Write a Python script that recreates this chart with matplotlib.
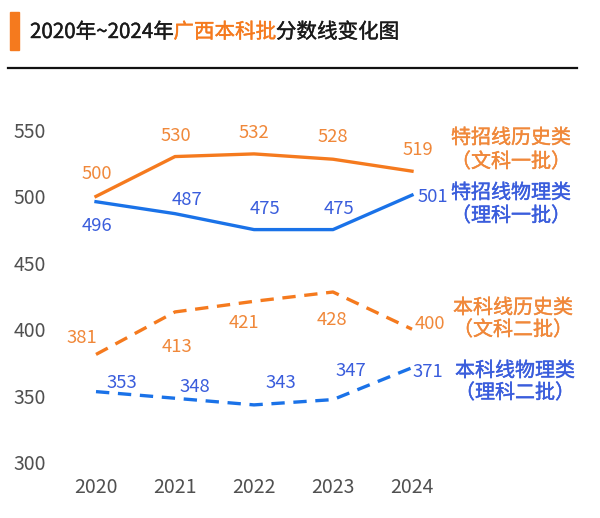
import matplotlib
matplotlib.use("Agg")
import matplotlib.pyplot as plt
import matplotlib.patheffects as pe
from matplotlib.patches import Rectangle
from matplotlib.lines import Line2D

plt.rcParams['font.family'] = ['Noto Sans CJK SC', 'DejaVu Sans']

years = [2020, 2021, 2022, 2023, 2024]
tz_history = [500, 530, 532, 528, 519]   # 特招线历史类
tz_physics = [496, 487, 475, 475, 501]   # 特招线物理类
bk_history = [381, 413, 421, 428, 400]   # 本科线历史类
bk_physics = [353, 348, 343, 347, 371]   # 本科线物理类
y_ticks = [300, 350, 400, 450, 500, 550]

ORANGE = '#F57A1E'
ORANGE_TXT = '#F0883A'
BLUE = '#1A72E8'
BLUE_TXT = '#3A5DDC'

fig = plt.figure(figsize=(6.0, 5.18), dpi=100)
W, H = 600, 518


def semi(color, w=0.3):
    # 常规字重加细描边, 模拟中粗体
    return [pe.withStroke(linewidth=w, foreground=color)]


# 标题
fig.patches.append(Rectangle((10 / W, 1 - 50 / H), 9 / W, 38 / H,
                             transform=fig.transFigure, color='#F57A1E'))
ty = 1 - 32 / H
parts = [('2020年~2024年', '#1a1a1a'), ('广西本科批', ORANGE), ('分数线变化图', '#1a1a1a')]
x = 30 / W
for txt, c in parts:
    t = fig.text(x, ty, txt, fontsize=14.8, color=c, va='center', ha='left',
                 path_effects=semi(c))
    fig.canvas.draw()
    x = t.get_window_extent().x1 / W
fig.lines.append(Line2D([8 / W, 577 / W], [1 - 68 / H, 1 - 68 / H],
                        transform=fig.transFigure, color='#111111', lw=1.6))

# 坐标轴 (像素位置对齐)
ax = fig.add_axes([60 / W, (H - 470) / H, 540 / W, 360 / H])
ax.set_xlim(2020 - 36 / 79, 2020 - 36 / 79 + 540 / 79)
ppu = 66.4 / 50
ax.set_ylim(300 - 8 / ppu, 300 - 8 / ppu + 360 / ppu)
for s in ax.spines.values():
    s.set_visible(False)
ax.set_xticks(years)
ax.set_yticks(y_ticks)
ax.tick_params(length=0, labelsize=14, labelcolor='#505050')
ax.tick_params(axis='y', pad=10)
ax.tick_params(axis='x', pad=5)

ax.plot(years, tz_history, color=ORANGE, lw=2.4, solid_joinstyle='round')
ax.plot(years, tz_physics, color=BLUE, lw=2.4, solid_joinstyle='round')
ax.plot(years, bk_history, color=ORANGE, lw=2.4, dashes=(4, 2.6))
ax.plot(years, bk_physics, color=BLUE, lw=2.4, dashes=(4, 2.6))


# 数据标签偏移 (像素)
def labels(vals, offs, color):
    for x, v, (dx, dy) in zip(years, vals, offs):
        ax.annotate(str(v), (x, v), xytext=(dx * 0.72, (dy - 1) * 0.72),
                    textcoords='offset points', ha='center', va='center',
                    fontsize=13.3, color=color)


labels(tz_history, [(1, 23), (1, 22), (0, 22), (0, 23), (6, 22)], ORANGE_TXT)
labels(tz_physics, [(1, -23), (12, 15), (11, 22), (6, 22), (21, -1)], BLUE_TXT)
labels(bk_history, [(-14, 17), (2, -34), (-10, -21), (-1, -27), (18, 6)], ORANGE_TXT)
labels(bk_physics, [(26, 10), (20, 12), (27, 23), (18, 30), (16, -3)], BLUE_TXT)

# 右侧系列名称
side = [
    (511, 138, '特招线历史类', ORANGE_TXT), (511, 162, '（文科一批）', ORANGE_TXT),
    (511, 193, '特招线物理类', BLUE_TXT), (511, 216, '（理科一批）', BLUE_TXT),
    (513, 308, '本科线历史类', ORANGE_TXT), (513, 330, '（文科二批）', ORANGE_TXT),
    (515, 371, '本科线物理类', BLUE_TXT), (515, 393, '（理科二批）', BLUE_TXT),
]
for px, py, txt, c in side:
    fig.text(px / W, 1 - py / H, txt, fontsize=14.4, color=c, ha='center',
             va='center', path_effects=semi(c))

fig.savefig('out.png', dpi=100)
